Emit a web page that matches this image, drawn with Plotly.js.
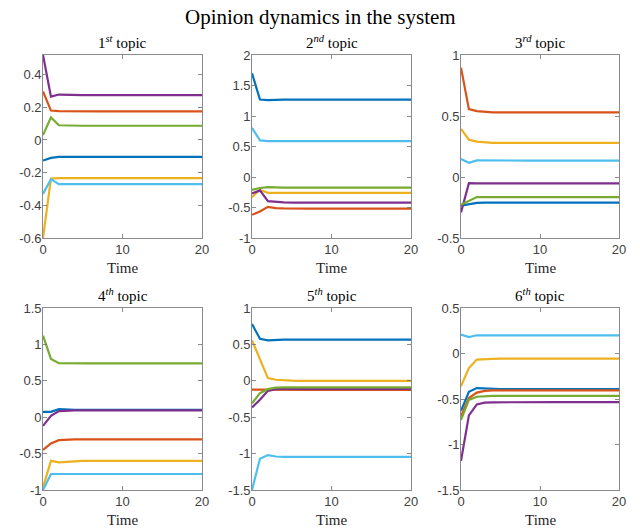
<!DOCTYPE html>
<html>
<head>
<meta charset="utf-8">
<script src="https://cdn.plot.ly/plotly-3.0.1.min.js"></script>
<style>html,body{margin:0;padding:0;background:#fff}#chart{width:640px;height:532px}</style>
</head>
<body>
<div id="chart"></div>
<script>
const time = [0,1,2,3,4,5,6,7,8,9,10,11,12,13,14,15,16,17,18,19,20];
const seriesColors = ['#0072BD','#D95319','#EDB120','#7E2F8E','#77AC30','#4DBEEE'];
const topicTitles = ['1<sup><i>st</i></sup> topic','2<sup><i>nd</i></sup> topic','3<sup><i>rd</i></sup> topic','4<sup><i>th</i></sup> topic','5<sup><i>th</i></sup> topic','6<sup><i>th</i></sup> topic'];

// Topic 1: agents 1..6
const t1a1 = [-0.126,-0.110,-0.103,-0.103,-0.103,-0.103,-0.103,-0.103,-0.103,-0.103,-0.103,-0.103,-0.103,-0.103,-0.103,-0.103,-0.103,-0.103,-0.103,-0.103,-0.103];
const t1a2 = [0.297,0.180,0.176,0.175,0.175,0.175,0.175,0.175,0.175,0.175,0.175,0.175,0.175,0.175,0.175,0.175,0.175,0.175,0.175,0.175,0.175];
const t1a3 = [-0.600,-0.236,-0.234,-0.233,-0.233,-0.233,-0.233,-0.233,-0.233,-0.233,-0.233,-0.233,-0.233,-0.233,-0.233,-0.233,-0.233,-0.233,-0.233,-0.233,-0.233];
const t1a4 = [0.520,0.265,0.278,0.276,0.275,0.275,0.275,0.275,0.275,0.275,0.275,0.275,0.275,0.275,0.275,0.275,0.275,0.275,0.275,0.275,0.275];
const t1a5 = [0.030,0.138,0.090,0.088,0.087,0.087,0.087,0.087,0.087,0.087,0.087,0.087,0.087,0.087,0.087,0.087,0.087,0.087,0.087,0.087,0.087];
const t1a6 = [-0.330,-0.240,-0.270,-0.270,-0.270,-0.270,-0.270,-0.270,-0.270,-0.270,-0.270,-0.270,-0.270,-0.270,-0.270,-0.270,-0.270,-0.270,-0.270,-0.270,-0.270];

// Topic 2
const t2a1 = [1.70,1.27,1.26,1.27,1.27,1.27,1.27,1.27,1.27,1.27,1.27,1.27,1.27,1.27,1.27,1.27,1.27,1.27,1.27,1.27,1.27];
const t2a2 = [-0.62,-0.565,-0.49,-0.51,-0.515,-0.52,-0.52,-0.52,-0.52,-0.52,-0.52,-0.52,-0.52,-0.52,-0.52,-0.52,-0.52,-0.52,-0.52,-0.52,-0.52];
const t2a3 = [-0.33,-0.21,-0.26,-0.26,-0.26,-0.26,-0.26,-0.26,-0.26,-0.26,-0.26,-0.26,-0.26,-0.26,-0.26,-0.26,-0.26,-0.26,-0.26,-0.26,-0.26];
const t2a4 = [-0.27,-0.22,-0.395,-0.41,-0.415,-0.42,-0.42,-0.42,-0.42,-0.42,-0.42,-0.42,-0.42,-0.42,-0.42,-0.42,-0.42,-0.42,-0.42,-0.42,-0.42];
const t2a5 = [-0.21,-0.18,-0.165,-0.175,-0.175,-0.175,-0.175,-0.175,-0.175,-0.175,-0.175,-0.175,-0.175,-0.175,-0.175,-0.175,-0.175,-0.175,-0.175,-0.175,-0.175];
const t2a6 = [0.806,0.60,0.587,0.588,0.588,0.588,0.588,0.588,0.588,0.588,0.588,0.588,0.588,0.588,0.588,0.588,0.588,0.588,0.588,0.588,0.588];

// Topic 3
const t3a1 = [-0.234,-0.22,-0.212,-0.21,-0.21,-0.21,-0.21,-0.21,-0.21,-0.21,-0.21,-0.21,-0.21,-0.21,-0.21,-0.21,-0.21,-0.21,-0.21,-0.21,-0.21];
const t3a2 = [0.896,0.556,0.54,0.533,0.53,0.53,0.53,0.53,0.53,0.53,0.53,0.53,0.53,0.53,0.53,0.53,0.53,0.53,0.53,0.53,0.53];
const t3a3 = [0.394,0.306,0.29,0.282,0.28,0.28,0.28,0.28,0.28,0.28,0.28,0.28,0.28,0.28,0.28,0.28,0.28,0.28,0.28,0.28,0.28];
const t3a4 = [-0.29,-0.05,-0.052,-0.052,-0.052,-0.052,-0.052,-0.052,-0.052,-0.052,-0.052,-0.052,-0.052,-0.052,-0.052,-0.052,-0.052,-0.052,-0.052,-0.052,-0.052];
const t3a5 = [-0.228,-0.197,-0.165,-0.165,-0.165,-0.165,-0.165,-0.165,-0.165,-0.165,-0.165,-0.165,-0.165,-0.165,-0.165,-0.165,-0.165,-0.165,-0.165,-0.165,-0.165];
const t3a6 = [0.147,0.117,0.136,0.135,0.135,0.135,0.135,0.135,0.135,0.135,0.135,0.135,0.135,0.135,0.135,0.135,0.135,0.135,0.135,0.135,0.135];

// Topic 4
const t4a1 = [0.073,0.073,0.11,0.10,0.10,0.10,0.10,0.10,0.10,0.10,0.10,0.10,0.10,0.10,0.10,0.10,0.10,0.10,0.10,0.10,0.10];
const t4a2 = [-0.45,-0.36,-0.316,-0.308,-0.305,-0.305,-0.305,-0.305,-0.305,-0.305,-0.305,-0.305,-0.305,-0.305,-0.305,-0.305,-0.305,-0.305,-0.305,-0.305,-0.305];
const t4a3 = [-0.963,-0.60,-0.62,-0.61,-0.605,-0.60,-0.60,-0.60,-0.60,-0.60,-0.60,-0.60,-0.60,-0.60,-0.60,-0.60,-0.60,-0.60,-0.60,-0.60,-0.60];
const t4a4 = [-0.12,0.018,0.083,0.093,0.095,0.095,0.095,0.095,0.095,0.095,0.095,0.095,0.095,0.095,0.095,0.095,0.095,0.095,0.095,0.095,0.095];
const t4a5 = [1.12,0.80,0.743,0.74,0.74,0.74,0.74,0.74,0.74,0.74,0.74,0.74,0.74,0.74,0.74,0.74,0.74,0.74,0.74,0.74,0.74];
const t4a6 = [-1.00,-0.78,-0.78,-0.78,-0.78,-0.78,-0.78,-0.78,-0.78,-0.78,-0.78,-0.78,-0.78,-0.78,-0.78,-0.78,-0.78,-0.78,-0.78,-0.78,-0.78];

// Topic 5
const t5a1 = [0.78,0.578,0.555,0.564,0.565,0.565,0.565,0.565,0.565,0.565,0.565,0.565,0.565,0.565,0.565,0.565,0.565,0.565,0.565,0.565,0.565];
const t5a2 = [-0.12,-0.122,-0.124,-0.125,-0.125,-0.125,-0.125,-0.125,-0.125,-0.125,-0.125,-0.125,-0.125,-0.125,-0.125,-0.125,-0.125,-0.125,-0.125,-0.125,-0.125];
const t5a3 = [0.555,0.29,0.037,0.014,0.005,0.002,0.0,0.0,0.0,0.0,0.0,0.0,0.0,0.0,0.0,0.0,0.0,0.0,0.0,0.0,0.0];
const t5a4 = [-0.367,-0.26,-0.138,-0.115,-0.11,-0.11,-0.11,-0.11,-0.11,-0.11,-0.11,-0.11,-0.11,-0.11,-0.11,-0.11,-0.11,-0.11,-0.11,-0.11,-0.11];
const t5a5 = [-0.31,-0.17,-0.115,-0.095,-0.09,-0.09,-0.09,-0.09,-0.09,-0.09,-0.09,-0.09,-0.09,-0.09,-0.09,-0.09,-0.09,-0.09,-0.09,-0.09,-0.09];
const t5a6 = [-1.50,-1.07,-1.02,-1.04,-1.045,-1.045,-1.045,-1.045,-1.045,-1.045,-1.045,-1.045,-1.045,-1.045,-1.045,-1.045,-1.045,-1.045,-1.045,-1.045,-1.045];

// Topic 6
const t6a1 = [-0.63,-0.42,-0.38,-0.385,-0.39,-0.39,-0.39,-0.39,-0.39,-0.39,-0.39,-0.39,-0.39,-0.39,-0.39,-0.39,-0.39,-0.39,-0.39,-0.39,-0.39];
const t6a2 = [-0.69,-0.49,-0.43,-0.41,-0.405,-0.405,-0.405,-0.405,-0.405,-0.405,-0.405,-0.405,-0.405,-0.405,-0.405,-0.405,-0.405,-0.405,-0.405,-0.405,-0.405];
const t6a3 = [-0.36,-0.16,-0.067,-0.06,-0.058,-0.057,-0.057,-0.057,-0.057,-0.057,-0.057,-0.057,-0.057,-0.057,-0.057,-0.057,-0.057,-0.057,-0.057,-0.057,-0.057];
const t6a4 = [-1.18,-0.68,-0.56,-0.54,-0.536,-0.535,-0.535,-0.535,-0.535,-0.535,-0.535,-0.535,-0.535,-0.535,-0.535,-0.535,-0.535,-0.535,-0.535,-0.535,-0.535];
const t6a5 = [-0.73,-0.51,-0.475,-0.468,-0.465,-0.465,-0.465,-0.465,-0.465,-0.465,-0.465,-0.465,-0.465,-0.465,-0.465,-0.465,-0.465,-0.465,-0.465,-0.465,-0.465];
const t6a6 = [0.208,0.18,0.20,0.20,0.20,0.20,0.20,0.20,0.20,0.20,0.20,0.20,0.20,0.20,0.20,0.20,0.20,0.20,0.20,0.20,0.20];

const topics = [
  [t1a1,t1a2,t1a3,t1a4,t1a5,t1a6],
  [t2a1,t2a2,t2a3,t2a4,t2a5,t2a6],
  [t3a1,t3a2,t3a3,t3a4,t3a5,t3a6],
  [t4a1,t4a2,t4a3,t4a4,t4a5,t4a6],
  [t5a1,t5a2,t5a3,t5a4,t5a5,t5a6],
  [t6a1,t6a2,t6a3,t6a4,t6a5,t6a6]
];

const yRanges = [[-0.6,0.52],[-1,2],[-0.5,1],[-1,1.5],[-1.5,1],[-1.5,0.5]];
const yTicks = [
  [-0.6,-0.4,-0.2,0,0.2,0.4],
  [-1,-0.5,0,0.5,1,1.5,2],
  [-0.5,0,0.5,1],
  [-1,-0.5,0,0.5,1,1.5],
  [-1.5,-1,-0.5,0,0.5,1],
  [-1.5,-1,-0.5,0,0.5]
];
const yTickText = [
  ['-0.6','-0.4','-0.2','0','0.2','0.4'],
  ['-1','-0.5','0','0.5','1','1.5','2'],
  ['-0.5','0','0.5','1'],
  ['-1','-0.5','0','0.5','1','1.5'],
  ['-1.5','-1','-0.5','0','0.5','1'],
  ['-1.5','-1','-0.5','0','0.5']
];
const xTicks = [0,10,20];

const W = 640, H = 532;
const colPx = [[43,202],[252,411],[461,619]];
const rowPx = [[55,238],[308,490]];

const data = [];
const layout = {
  width: W, height: H,
  margin: {l:0,r:0,t:0,b:0},
  paper_bgcolor: '#fff', plot_bgcolor: '#fff',
  showlegend: false,
  annotations: [],
  font: {family: 'Liberation Sans, Arial, sans-serif', size: 12, color: '#262626'}
};

const serif = 'Liberation Serif, Times New Roman, serif';

topics.forEach((series, k) => {
  const idx = k + 1;
  const xa = 'x' + (idx === 1 ? '' : idx);
  const ya = 'y' + (idx === 1 ? '' : idx);
  series.forEach((vals, j) => {
    data.push({
      x: time, y: vals, xaxis: xa, yaxis: ya,
      type: 'scatter', mode: 'lines',
      line: {color: seriesColors[j], width: 2.2},
      hoverinfo: 'skip'
    });
  });
  const c = k % 3, r = Math.floor(k / 3);
  const xd = [colPx[c][0] / W, colPx[c][1] / W];
  const yd = [1 - rowPx[r][1] / H, 1 - rowPx[r][0] / H];
  const axCommon = {
    showline: true, linecolor: '#6e6e6e', linewidth: 0.8, mirror: 'ticks',
    ticks: 'inside', ticklen: 4, tickwidth: 0.8, tickcolor: '#6e6e6e',
    showgrid: false, zeroline: false,
    tickfont: {family: 'Liberation Sans, Arial, sans-serif', size: 13, color: '#404040'}
  };
  layout['xaxis' + (idx === 1 ? '' : idx)] = Object.assign({}, axCommon, {
    domain: xd, anchor: ya, range: [0, 20],
    tickmode: 'array', tickvals: xTicks, ticktext: xTicks.map(String)
  });
  layout['yaxis' + (idx === 1 ? '' : idx)] = Object.assign({}, axCommon, {
    domain: yd, anchor: xa, range: yRanges[k], ticklabelstandoff: -2,
    tickmode: 'array', tickvals: yTicks[k], ticktext: yTickText[k]
  });
  const cx = (xd[0] + xd[1]) / 2;
  layout.annotations.push({
    text: topicTitles[k], xref: 'paper', yref: 'paper', x: cx, y: yd[1] + 2 / H,
    xanchor: 'center', yanchor: 'bottom', showarrow: false,
    font: {family: serif, size: 15, color: '#000'}
  });
  layout.annotations.push({
    text: 'Time', xref: 'paper', yref: 'paper', x: cx, y: yd[0] - 20 / H,
    xanchor: 'center', yanchor: 'top', showarrow: false,
    font: {family: serif, size: 15, color: '#262626'}
  });
});

layout.annotations.push({
  text: 'Opinion dynamics in the system', xref: 'paper', yref: 'paper',
  x: 0.5, y: 1 - 3 / H, xanchor: 'center', yanchor: 'top', showarrow: false,
  font: {family: serif, size: 21, color: '#000'}
});

Plotly.newPlot('chart', data, layout, {staticPlot: true, displayModeBar: false});
</script>
</body>
</html>
